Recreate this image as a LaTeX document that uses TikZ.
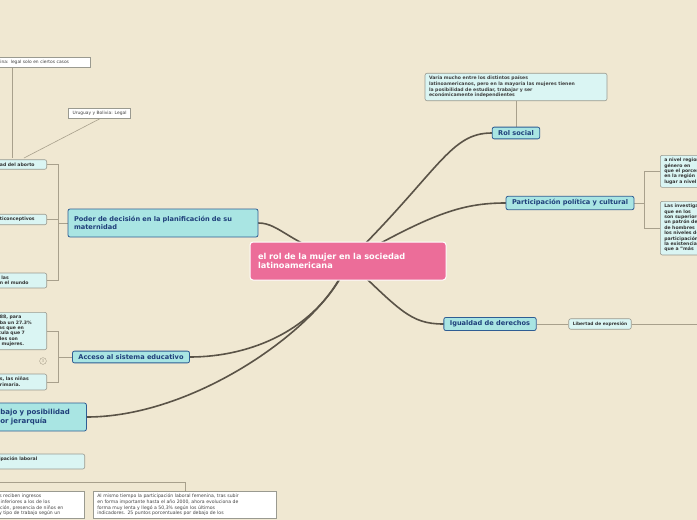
\documentclass[tikz,border=0pt]{standalone}
\usepackage{fontspec}
\setmainfont{DejaVu Sans}
\usetikzlibrary{backgrounds}

\definecolor{paper}{HTML}{F0E8D2}
\definecolor{mainpink}{HTML}{EC6D99}
\definecolor{topicfill}{HTML}{A9E5E3}
\definecolor{topicline}{HTML}{2F5D93}
\definecolor{topictext}{HTML}{1F3F7A}
\definecolor{subfill}{HTML}{DAF5F3}
\definecolor{subline}{HTML}{9A9A90}
\definecolor{branch}{HTML}{5A5347}
\definecolor{twig}{HTML}{A8A08C}

\tikzset{
    topic/.style = {draw = topicline, fill = topicfill, rounded corners = 2pt,
        line width = 0.8pt, font = \fontsize{6.6}{8}\selectfont\bfseries,
        text = topictext, align = left, inner xsep = 6pt},
    subtopic/.style = {draw = subline, fill = subfill, rounded corners = 2pt,
        line width = 0.6pt, font = \fontsize{4.6}{5.4}\selectfont\bfseries,
        text = black!80, align = left, inner xsep = 4pt, inner ysep = 3pt},
    note/.style = {draw = subline, fill = white, line width = 0.6pt,
        font = \fontsize{4.6}{5.6}\selectfont, text = black!75,
        align = left, inner xsep = 4pt, inner ysep = 3pt},
    limb/.style = {draw = branch, line width = 1.6pt, line cap = round},
    twiglink/.style = {draw = twig, line width = 0.6pt}
}

\begin{document}
\begin{tikzpicture}[x = 1pt, y = -1pt]

    % Page frame.
    \useasboundingbox (0, 0) rectangle (697, 520);

    % Central idea.
    \node[draw = white, fill = mainpink, rounded corners = 3pt, line width = 1pt,
        minimum width = 196pt, minimum height = 38pt, text width = 180pt,
        align = left, text = white, font = \fontsize{8.2}{9.6}\selectfont\bfseries]
        (core) at (348, 261) {el rol de la mujer en la sociedad\\latinoamericana};

    % Main topics.
    \node[topic] (rol) at (516, 133) {Rol social};
    \node[topic] (poli) at (570, 203) {Participación política y cultural};
    \node[topic] (igual) at (490, 324) {Igualdad de derechos};
    \node[topic, minimum height = 28pt, text width = 178pt] (poder) at (163, 223)
        {Poder de decisión en la planificación de su\\maternidad};
    \node[topic] (acceso) at (131, 357) {Acceso al sistema educativo};
    \node[topic, anchor = west, minimum height = 28pt, text width = 80pt,
        font = \fontsize{7}{8.6}\selectfont\bfseries] (trabajo) at (-6, 417)
        {bajo y posibilidad\\or jerarquía};

    % Sub topics, right side.
    \node[note, rounded corners = 2pt, fill = subfill, font = \fontsize{4.6}{5.6}\selectfont\bfseries,
        text width = 174pt] (rolnote) at (516, 87)
        {Varía mucho entre los distintos países\\latinoamericanos, pero en la mayoría las mujeres tienen\\la posibilidad de estudiar, trabajar y ser\\económicamente independientes};
    \node[subtopic, anchor = north west, text width = 60pt] (polia) at (660, 155)
        {a nivel regional\\género en\\que el porcentaje\\en la región\\lugar a nivel};
    \node[subtopic, anchor = north west, text width = 60pt] (polib) at (660, 201)
        {Las investigaciones\\que en los\\son superiores\\un patrón de\\de hombres\\los niveles de\\participación\\la existencia\\que a "más};
    \node[subtopic, font = \fontsize{4.4}{5.4}\selectfont\bfseries] (expr) at (600, 324) {Libertad de expresión};
    \coordinate (exprend) at (697, 324);

    % Sub topics, left side.
    \node[subtopic, anchor = east, text width = 46pt] (aborto) at (47, 164.5) {dad del aborto};
    \node[subtopic, anchor = east, text width = 46pt] (anti) at (47, 219.5) {nticonceptivos};
    \node[subtopic, anchor = east, text width = 46pt] (mundo) at (47, 280.5) {o las\\en el mundo};
    \node[note, anchor = east, text width = 88pt, font = \fontsize{4.4}{5}\selectfont] (legal) at (91, 62) {tina: legal solo en ciertos casos};
    \node[note, font = \fontsize{4.4}{5}\selectfont] (uru) at (99.5, 113.5) {Uruguay y Bolivia: Legal};
    \node[subtopic, anchor = east, text width = 46pt] (cifra) at (47, 331)
        {988, para\\aba un 27.3\%\\ras que en\\ícula que 7\\ales son\\n mujeres.};
    \node[subtopic, anchor = east, text width = 46pt] (ninas) at (47, 382) {os, las niñas\\primaria.};
    \node[draw = twig, fill = paper, circle, inner sep = 1pt, font = \fontsize{4}{4}\selectfont, text = twig]
        (count) at (43, 361) {3};
    \node[subtopic, anchor = east, text width = 86pt] (laboral) at (85, 461.5) {icipación laboral\\.};
    \node[note, anchor = north east, text width = 86pt] (ingreso) at (85, 491)
        {res reciben ingresos\\\% inferiores a los de los\\cación, presencia de niños en\\d y tipo de trabajo según un};
    \node[note, anchor = north west, text width = 175pt] (mismo) at (93, 491)
        {Al mismo tiempo la participación laboral femenina, tras subir\\en forma importante hasta el año 2000, ahora evoluciona de\\forma muy lenta y llegó a 50,3\% según los últimos\\indicadores. 25 puntos porcentuales por debajo de los};

    \begin{scope}[on background layer]
        \fill[paper] (0, 0) rectangle (697, 520);

        % Thick limbs from the central idea.
        \draw[limb] (core.center) .. controls (440, 170) and (450, 133) .. (rol.west);
        \draw[limb] (core.center) .. controls (430, 215) and (460, 203) .. (poli.west);
        \draw[limb] (core.center) .. controls (400, 310) and (410, 324) .. (igual.west);
        \draw[limb] (core.center) .. controls (290, 245) and (280, 223) .. (poder.east);
        \draw[limb] (core.center) .. controls (320, 330) and (250, 357) .. (acceso.east);
        \draw[limb] (core.center) .. controls (330, 320) and (200, 417) .. (trabajo.east);

        % Thin twigs to the sub topics.
        \draw[twiglink] (rol.north) -- (rolnote.south);
        \draw[twiglink] (poli.east) -- ++(10, 0) |- (polia.west);
        \draw[twiglink] (poli.east) -- ++(10, 0) |- (polib.west);
        \draw[twiglink] (igual.east) -- (expr.west);
        \draw[twiglink] (expr.east) -- (exprend);
        \draw[twiglink] (poder.west) -- (58, 223) |- (aborto.east);
        \draw[twiglink] (58, 223) |- (anti.east);
        \draw[twiglink] (58, 223) |- (mundo.east);
        \draw[twiglink] (12, 158) -- (12, 68);
        \draw[twiglink] (24, 158) -- (uru.south);
        \draw[twiglink] (acceso.west) -- (58, 357) |- (cifra.east);
        \draw[twiglink] (58, 357) |- (ninas.east);
        \draw[twiglink] (0, 482) -- (185, 482) -- (185, 491);
    \end{scope}
\end{tikzpicture}
\end{document}
